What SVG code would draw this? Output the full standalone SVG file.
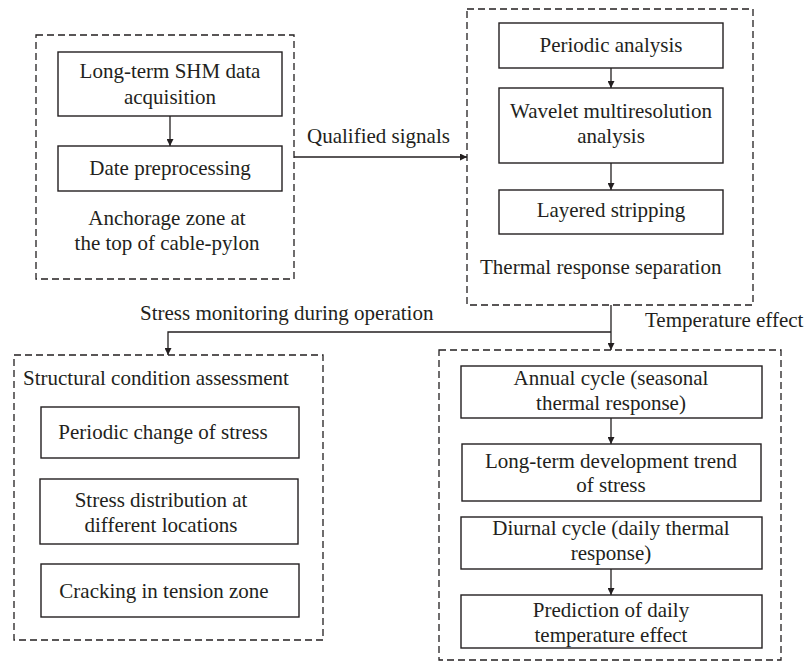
<svg xmlns="http://www.w3.org/2000/svg" width="805" height="663" viewBox="0 0 805 663" font-family="'Liberation Serif', Tinos, 'Times New Roman', serif">
<style>
text{font-family:'Liberation Serif',Tinos,'Times New Roman',serif;font-size:21px;fill:#231f20}
.c{text-anchor:middle}
.box{fill:none;stroke:#231f20;stroke-width:1.4}
.grp{fill:none;stroke:#231f20;stroke-width:1.3;stroke-dasharray:7 4}
.ln{fill:none;stroke:#231f20;stroke-width:1.3}
</style>
<defs>
<marker id="ah" viewBox="0 0 10 10" refX="10" refY="5" markerWidth="8" markerHeight="7" markerUnits="userSpaceOnUse" orient="auto">
<path d="M0,0 L10,5 L0,10 z" fill="#231f20"/>
</marker>
</defs>
<rect width="805" height="663" fill="#fff"/>
<g id="anchorage">
<rect class="grp" x="36" y="35" width="258" height="244"/>
<text class="c" x="167" y="225">Anchorage zone at</text>
<text class="c" x="167" y="250">the top of cable-pylon</text>
</g>
<g id="shm">
<rect class="box" x="58" y="52" width="224" height="64"/>
<text class="c" x="170" y="78">Long-term SHM data</text>
<text class="c" x="170" y="104">acquisition</text>
</g>
<g id="preproc">
<rect class="box" x="58" y="146" width="224" height="45"/>
<text class="c" x="170" y="175">Date preprocessing</text>
</g>
<g id="thermal">
<rect class="grp" x="467" y="9" width="286" height="296"/>
<text x="480" y="274">Thermal response separation</text>
</g>
<g id="periodic">
<rect class="box" x="499" y="23" width="224" height="45"/>
<text class="c" x="611" y="52">Periodic analysis</text>
</g>
<g id="wavelet">
<rect class="box" x="499" y="88" width="224" height="75"/>
<text class="c" x="611" y="118">Wavelet multiresolution</text>
<text class="c" x="611" y="143">analysis</text>
</g>
<g id="layered">
<rect class="box" x="499" y="190" width="224" height="44"/>
<text class="c" x="611" y="217">Layered stripping</text>
</g>
<g id="structural">
<rect class="grp" x="14" y="355" width="309" height="285"/>
<text x="23" y="385">Structural condition assessment</text>
</g>
<g id="pchange">
<rect class="box" x="41" y="407" width="258" height="51"/>
<text class="c" x="163" y="439">Periodic change of stress</text>
</g>
<g id="sdist">
<rect class="box" x="40" y="479" width="258" height="65"/>
<text class="c" x="161" y="507">Stress distribution at</text>
<text class="c" x="161" y="532">different locations</text>
</g>
<g id="crack">
<rect class="box" x="41" y="564" width="258" height="53"/>
<text class="c" x="164" y="598">Cracking in tension zone</text>
</g>
<g id="temp">
<rect class="grp" x="439" y="350" width="342" height="310"/>
<text x="645" y="327">Temperature effect</text>
</g>
<g id="annual">
<rect class="box" x="461" y="366" width="301" height="52"/>
<text class="c" x="611" y="385">Annual cycle (seasonal</text>
<text class="c" x="611" y="410">thermal response)</text>
</g>
<g id="longterm">
<rect class="box" x="462" y="444" width="299" height="57"/>
<text class="c" x="611" y="468">Long-term development trend</text>
<text class="c" x="611" y="492">of stress</text>
</g>
<g id="diurnal">
<rect class="box" x="461" y="517" width="301" height="52"/>
<text class="c" x="611" y="535">Diurnal cycle (daily thermal</text>
<text class="c" x="611" y="560">response)</text>
</g>
<g id="predict">
<rect class="box" x="461" y="595" width="301" height="53"/>
<text class="c" x="611" y="617">Prediction of daily</text>
<text class="c" x="611" y="642">temperature effect</text>
</g>
<g id="connectors">
<path class="ln" d="M170,116 V146" marker-end="url(#ah)"/>
<path class="ln" d="M294,157 H467" marker-end="url(#ah)"/>
<text x="307" y="143">Qualified signals</text>
<path class="ln" d="M611,68 V88" marker-end="url(#ah)"/>
<path class="ln" d="M611,163 V190" marker-end="url(#ah)"/>
<path class="ln" d="M611,305 V350" marker-end="url(#ah)"/>
<path class="ln" d="M611,332 H168 V355" marker-end="url(#ah)"/>
<text x="140" y="320">Stress monitoring during operation</text>
<path class="ln" d="M611,418 V444" marker-end="url(#ah)"/>
<path class="ln" d="M611,569 V595" marker-end="url(#ah)"/>
</g>
</svg>
